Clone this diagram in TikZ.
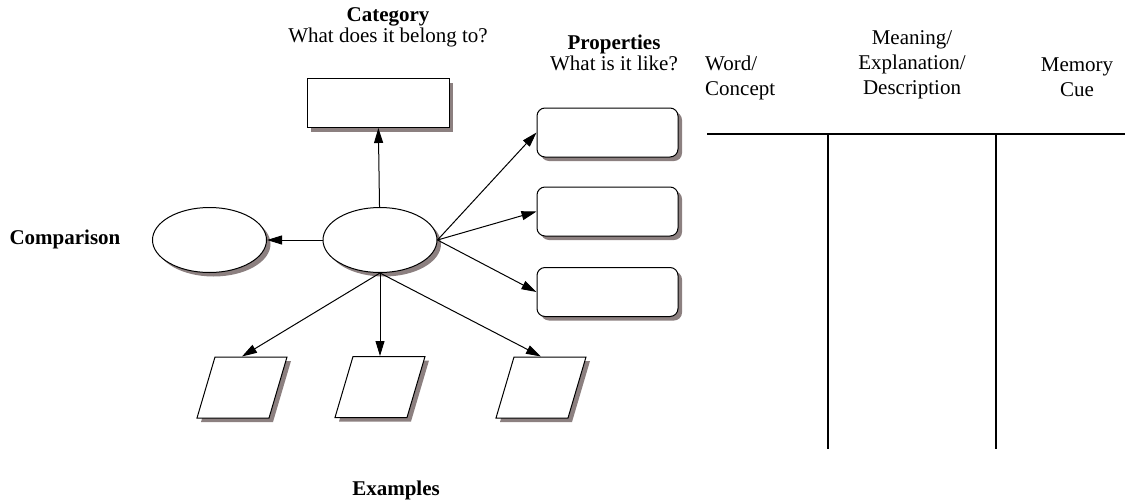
\documentclass[tikz,border=0pt]{standalone}
\usepackage{fontspec}
\setmainfont{Liberation Serif}
\usetikzlibrary{arrows.meta,shapes.geometric,shadows}
\definecolor{shadowgray}{RGB}{140,128,128}

\begin{document}
\begin{tikzpicture}[x=1pt, y=-1pt,
    every node/.style={font=\fontsize{21}{25}\selectfont},
    txt/.style={align=center, inner sep=0pt},
    shade/.style={draw, fill=white, line width=1pt,
      drop shadow={shadow xshift=4pt, shadow yshift=-4pt, fill=shadowgray, opacity=1}},
    oval/.style={shade, ellipse, minimum width=114pt, minimum height=65pt, inner sep=0pt},
    box/.style={shade, minimum width=142pt, minimum height=49pt, inner sep=0pt},
    rbox/.style={box, rounded corners=8pt, minimum width=141pt},
    slbox/.style={shade, xslant=0.295, minimum width=72pt, minimum height=61pt, inner sep=0pt},
    arr/.style={-{Triangle[length=15pt,width=9pt]}, line width=1pt},
    rule/.style={line width=1.8pt}]
  \useasboundingbox (0,0) rectangle (1130,501);

  % labels
  \node (cattxt) at (388, 27) [txt] {\textbf{Category}\\[-4pt] What does it belong to?};
  \node (proptxt) at (614, 53) [txt] {\textbf{Properties}\\[-4pt] What is it like?};
  \node (comptxt) at (65, 239) [txt] {\textbf{Comparison}};
  \node (extxt) at (396, 490) [txt] {\textbf{Examples}};

  % shapes
  \node (cat) at (378, 103) [box] {};
  \node (mid) at (380, 240) [oval] {};
  \node (comp) at (209.5, 240) [oval] {};
  \node (prop1) at (607.5, 132.5) [rbox] {};
  \node (prop2) at (607.5, 211.5) [rbox] {};
  \node (prop3) at (607.5, 292) [rbox] {};
  \node (ex1) at (242, 387.5) [slbox] {};
  \node (ex2) at (380, 387) [slbox] {};
  \node (ex3) at (541, 387.5) [slbox] {};

  \draw[arr] (mid) -- (cat);
  \draw[arr] (mid) -- (comp);
  \draw[arr] (mid.east) -- (prop1.west);
  \draw[arr] (mid.east) -- (prop2.west);
  \draw[arr] (mid.east) -- (prop3.west);
  \draw[arr] (mid.south) -- (ex1.center |- ex1.north);
  \draw[arr] (mid.south) -- (ex2.center |- ex2.north);
  \draw[arr] (mid.south) -- (ex3.center |- ex3.north);

  % table
  \node (word) at (705, 77.5) [txt, anchor=west, align=left] {Word/\\Concept};
  \node (meaning) at (912, 65) [txt] {Meaning/\\Explanation/\\Description};
  \node (memory) at (1077, 77.5) [txt] {Memory\\Cue};
  \draw[rule] (707, 134) -- (1125, 134);
  \draw[rule] (828, 134) -- (828, 449);
  \draw[rule] (996, 134) -- (996, 449);
\end{tikzpicture}
\end{document}
